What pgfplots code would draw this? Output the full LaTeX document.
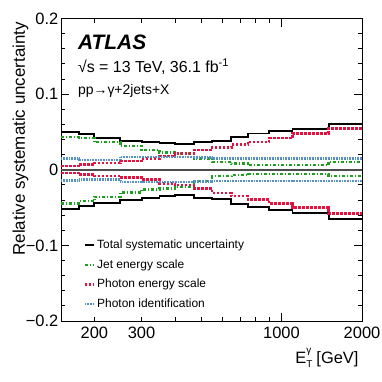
\documentclass[border=0pt]{standalone}
\usepackage{fontspec}
\setmainfont{Liberation Sans}
\usepackage{pgfplots}
\usepackage{pgfplotstable}
\pgfplotsset{compat=1.18}
\definecolor{jesgreen}{RGB}{30,160,30}
\definecolor{pesred}{RGB}{225,20,65}
\definecolor{pidblue}{RGB}{85,145,195}
\pgfplotstableread{
x     tu      td       ju      jd       pu      pd       iu     id
150  0.0497 -0.0514  0.0434 -0.0447  0.0050 -0.0042  0.0148 -0.0140
175  0.0470 -0.0480  0.0420 -0.0417  0.0070 -0.0064  0.0130 -0.0130
200  0.0417 -0.0436  0.0368 -0.0360  0.0090 -0.0086  0.0130 -0.0130
250  0.0377 -0.0396  0.0315 -0.0302  0.0113 -0.0103  0.0165 -0.0160
300  0.0372 -0.0370  0.0258 -0.0262  0.0148 -0.0130  0.0165 -0.0160
350  0.0350 -0.0347  0.0228 -0.0249  0.0180 -0.0180  0.0165 -0.0160
400  0.0338 -0.0334  0.0215 -0.0228  0.0215 -0.0205  0.0165 -0.0160
470  0.0364 -0.0370  0.0148 -0.0148  0.0258 -0.0250  0.0160 -0.0155
550  0.0377 -0.0390  0.0103 -0.0086  0.0294 -0.0307  0.0150 -0.0150
650  0.0430 -0.0448  0.0082 -0.0073  0.0334 -0.0350  0.0150 -0.0150
750  0.0480 -0.0490  0.0060 -0.0060  0.0368 -0.0395  0.0150 -0.0150
900  0.0510 -0.0536  0.0060 -0.0060  0.0420 -0.0448  0.0150 -0.0150
1100 0.0536 -0.0570  0.0060 -0.0060  0.0480 -0.0500  0.0150 -0.0150
1500 0.0600 -0.0646  0.0103 -0.0080  0.0546 -0.0580  0.0150 -0.0150
2000 0.0600 -0.0646  0.0103 -0.0080  0.0546 -0.0580  0.0150 -0.0150
}\systab
\begin{document}
\begin{tikzpicture}
\useasboundingbox (-61bp,-61bp) rectangle (321bp,321bp);
\begin{axis}[
  at={(0,0)}, anchor=south west,
  scale only axis, width=301bp, height=302.5bp,
  xmode=log, xmin=150, xmax=2000,
  ymin=-0.2, ymax=0.2,
  log basis x=10,
  xtick={1000}, xticklabels={1000},
  extra x ticks={200,300,2000}, extra x tick labels={200,300,2000},
  extra x tick style={major tick length=4.5bp},
  minor xtick={400,500,600,700,800,900},
  ytick={-0.2,-0.1,0,0.1,0.2},
  yticklabels={−0.2,−0.1,0,0.1,0.2},
  minor y tick num=4,
  tick align=inside, xtick pos=both, ytick pos=both,
  major tick length=8.5bp, minor tick length=4.5bp,
  every tick/.style={black, line width=0.8bp},
  axis line style={line width=1bp},
  tick label style={font=\fontsize{16.5}{19}\selectfont},
  yticklabel style={inner xsep=2.5bp},
  xticklabel style={inner ysep=6bp},
  /pgf/number format/assume math mode=true,
  xlabel={E\makebox[0pt][l]{\raisebox{0.55em}{\fontsize{10}{10}\selectfont γ}}\raisebox{-0.3em}{\fontsize{10}{10}\selectfont T}\hspace{0.25em}[GeV]},
  x label style={at={(axis description cs:1,0)}, anchor=base east, yshift=-42bp, font=\fontsize{16.5}{19}\selectfont},
  ylabel={Relative systematic uncertainty},
  y label style={at={(axis description cs:-0.12,1)}, anchor=base east, font=\fontsize{17}{20}\selectfont},
  legend style={at={(axis description cs:0.075,0.275)}, anchor=north west, draw=none, fill=none,
    inner sep=0pt, font=\fontsize{12}{14}\selectfont, row sep=5.5bp, cells={anchor=west}},
  legend image code/.code={\draw[#1] (0bp,0bp) -- (9bp,0bp);},
]
\addplot[black!70, line width=1.5bp, forget plot] coordinates {(150,0) (2000,0)};
\addplot[const plot, black, line width=1.9bp] table[x=x,y=tu]{\systab};
\addlegendentry{Total systematic uncertainty}
\addplot[const plot, black, line width=1.9bp, forget plot] table[x=x,y=td]{\systab};
\addplot[const plot, jesgreen, line width=2.4bp, dash pattern=on 3bp off 2bp on 1bp off 2bp] table[x=x,y=ju]{\systab};
\addlegendentry{Jet energy scale}
\addplot[const plot, jesgreen, line width=2.4bp, dash pattern=on 3bp off 2bp on 1bp off 2bp, forget plot] table[x=x,y=jd]{\systab};
\addplot[const plot, pesred, line width=2.4bp, dash pattern=on 2.5bp off 1.5bp] table[x=x,y=pu]{\systab};
\addlegendentry{Photon energy scale}
\addplot[const plot, pesred, line width=2.4bp, dash pattern=on 2.5bp off 1.5bp, forget plot] table[x=x,y=pd]{\systab};
\addplot[const plot, pidblue, line width=2.4bp, dash pattern=on 0.8bp off 0.8bp] table[x=x,y=iu]{\systab};
\addlegendentry{Photon identification}
\addplot[const plot, pidblue, line width=2.4bp, dash pattern=on 0.8bp off 0.8bp, forget plot] table[x=x,y=id]{\systab};
\node[anchor=base west, font=\fontsize{21}{24}\selectfont\bfseries\itshape, inner sep=0pt] at (axis description cs:0.056,0.896) {ATLAS};
\node[anchor=base west, font=\fontsize{16}{19}\selectfont, inner sep=0pt] at (axis description cs:0.056,0.82) {√s = 13 TeV, 36.1 fb\textsuperscript{-1}};
\node[anchor=base west, font=\fontsize{14}{17}\selectfont, inner sep=0pt] at (axis description cs:0.056,0.75) {pp→γ+2jets+X};
\end{axis}
\end{tikzpicture}
\end{document}
